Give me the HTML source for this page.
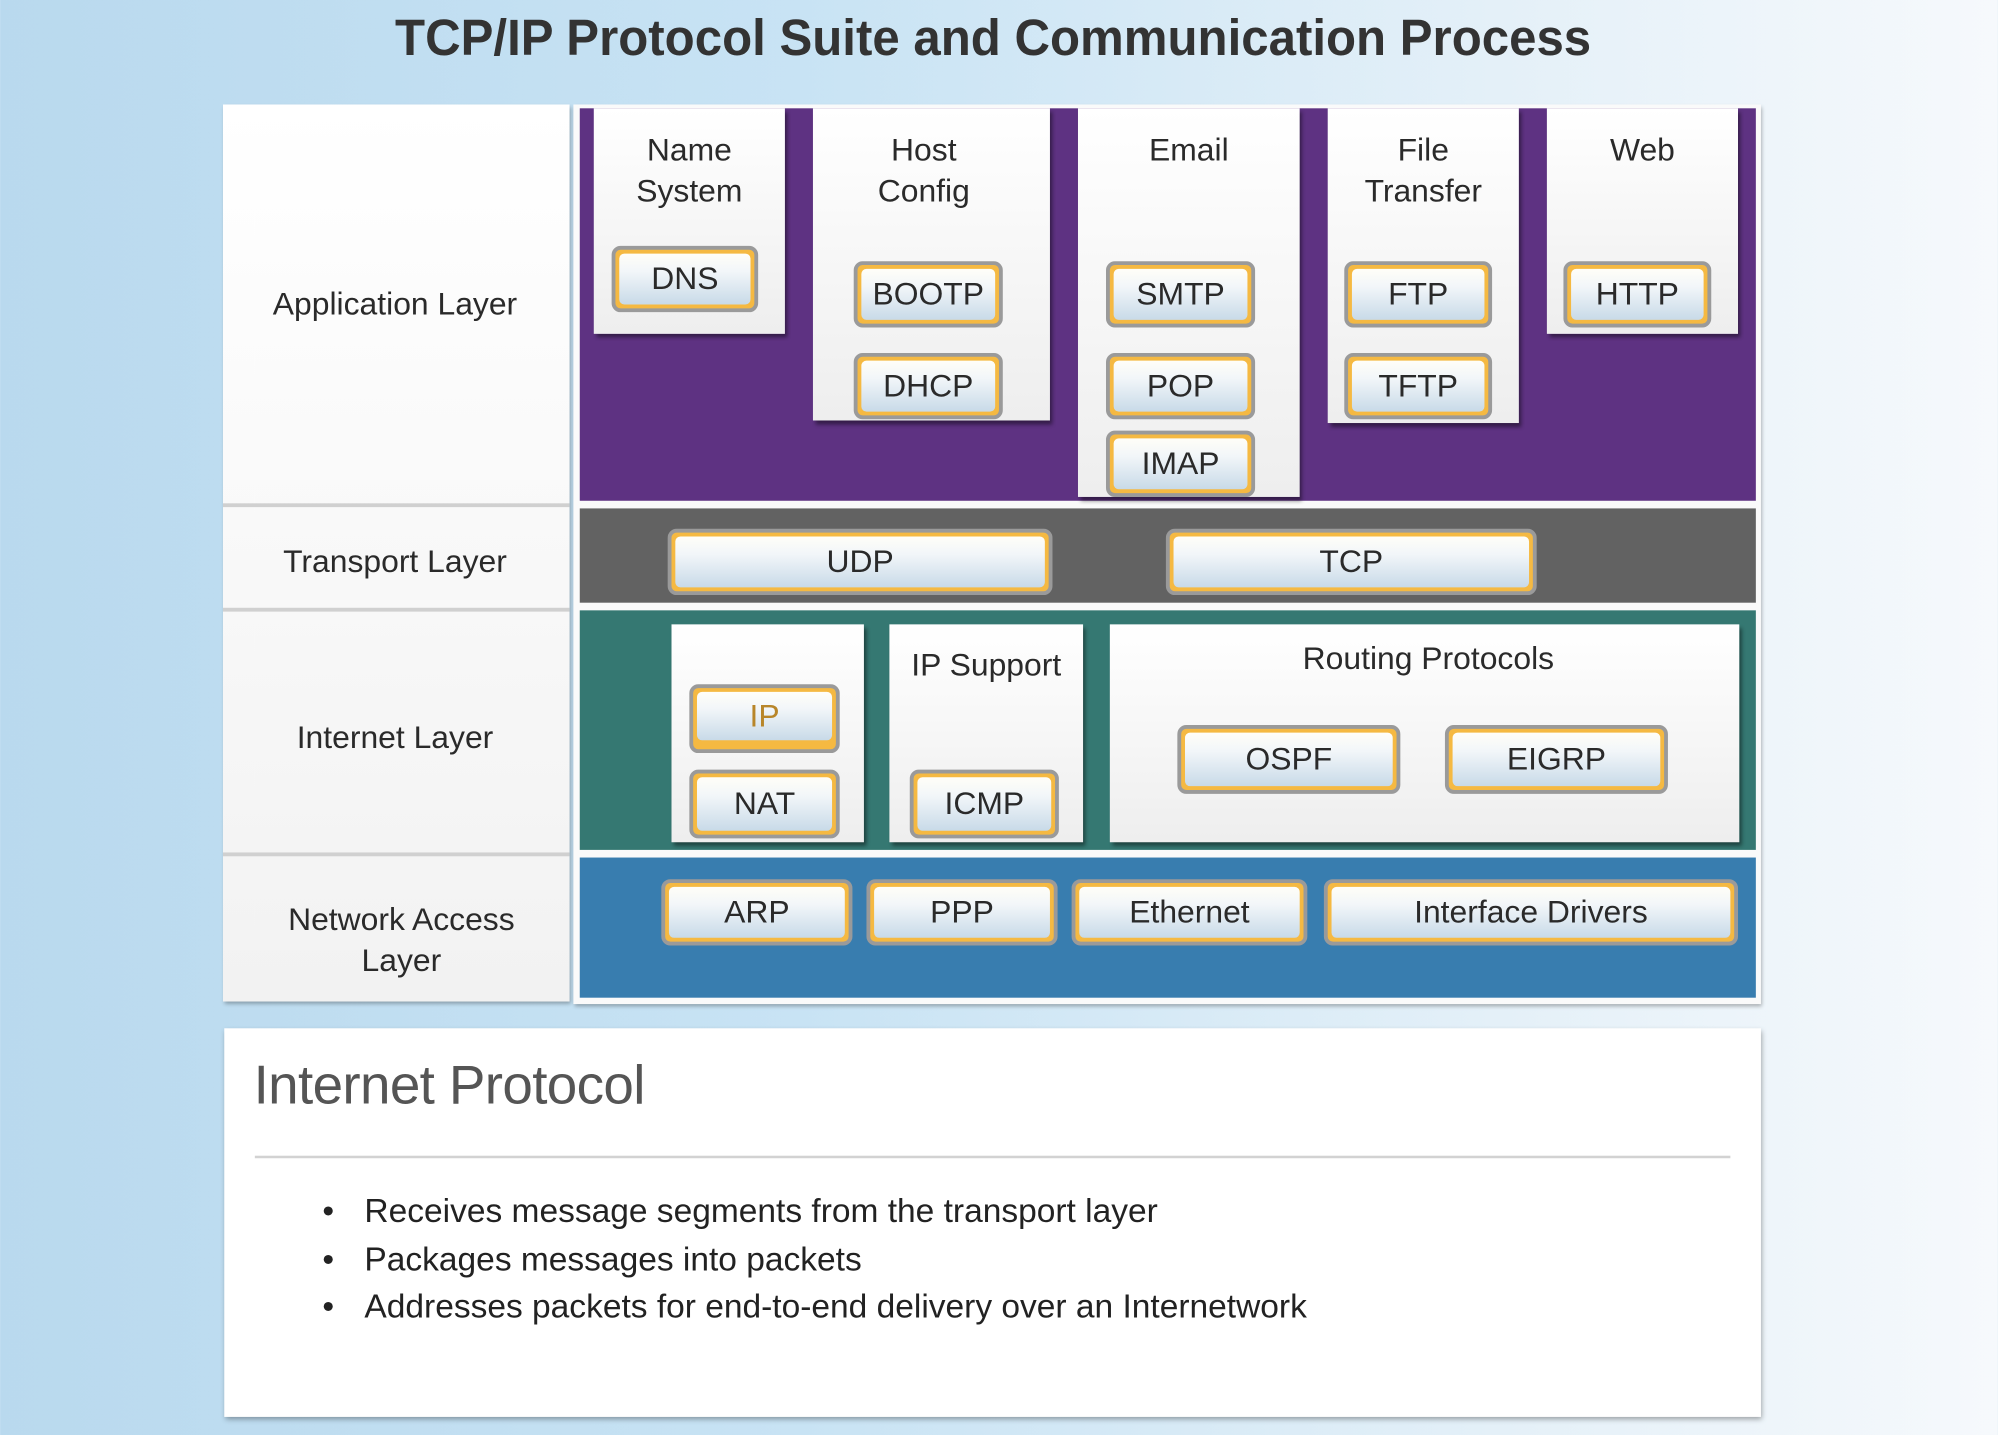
<!DOCTYPE html>
<html><head><meta charset="utf-8"><style>
html,body{margin:0;padding:0;width:1998px;height:1434px;overflow:hidden}
body{background:linear-gradient(90deg,#b9d9ee 0%,#c8e3f4 40%,#e4f0f8 75%,#f6f9fc 100%);font-family:"Liberation Sans",sans-serif}
#s{position:absolute;left:0;top:0;width:1568px;height:1126px;transform:scale(1.2742);transform-origin:0 0}
.a{position:absolute}
.t{position:absolute;color:#2a2a2a;font-size:25px;text-align:center;line-height:32px}
.b{position:absolute;box-sizing:border-box;border:3px solid #9a9a9a;border-radius:7px;background:#f5b942;padding:3px}
.b>div{width:100%;height:100%;border-radius:4px;background:linear-gradient(#fffef8 0%,#f2f6f9 35%,#c8dae8 100%);display:flex;align-items:center;justify-content:center;font-size:25px;color:#2a2a2a}
.c{position:absolute;background:linear-gradient(#fff,#eeeeee);box-shadow:2px 3px 3px rgba(0,0,0,.45)}
</style></head><body><div id="s">
<div class="a" style="left:0;top:0;width:1568px;text-align:center;top:8px;font-size:40px;font-weight:bold;color:#333;"><span style="display:inline-block;transform:scaleX(0.965);margin-left:-10px">TCP/IP Protocol Suite and Communication Process</span></div>

<div class="a" style="left:175px;top:82px;width:272px;height:704px;background:linear-gradient(#fff,#f2f2f2);box-shadow:1px 2px 3px rgba(0,0,0,.3)"></div>
<div class="a" style="left:175px;top:395px;width:272px;height:3px;background:#d0d0d0"></div>
<div class="a" style="left:175px;top:477px;width:272px;height:3px;background:#d0d0d0"></div>
<div class="a" style="left:175px;top:669px;width:272px;height:3px;background:#d0d0d0"></div>
<div class="t" style="left:175px;width:270px;top:223px">Application Layer</div>
<div class="t" style="left:175px;width:270px;top:425px">Transport Layer</div>
<div class="t" style="left:175px;width:270px;top:563px">Internet Layer</div>
<div class="t" style="left:180px;width:270px;top:706px">Network Access<br>Layer</div>

<div class="a" style="left:450px;top:82px;width:932px;height:706px;background:#fafafa;box-shadow:1px 2px 3px rgba(0,0,0,.3)"></div>
<div class="a" style="left:455px;top:85px;width:923px;height:308px;background:#5e3282"></div>
<div class="a" style="left:455px;top:399px;width:923px;height:74px;background:#626262"></div>
<div class="a" style="left:455px;top:479px;width:923px;height:188px;background:#357872"></div>
<div class="a" style="left:455px;top:673px;width:923px;height:110px;background:#387daf"></div>

<div class="c" style="left:466px;top:85px;width:150px;height:177px"></div>
<div class="c" style="left:638px;top:85px;width:186px;height:245px"></div>
<div class="c" style="left:846px;top:85px;width:174px;height:305px"></div>
<div class="c" style="left:1042px;top:85px;width:150px;height:247px"></div>
<div class="c" style="left:1214px;top:85px;width:150px;height:177px"></div>
<div class="t" style="left:466px;width:150px;top:102px">Name<br>System</div>
<div class="t" style="left:638px;width:174px;top:102px">Host<br>Config</div>
<div class="t" style="left:846px;width:174px;top:102px">Email</div>
<div class="t" style="left:1042px;width:150px;top:102px">File<br>Transfer</div>
<div class="t" style="left:1214px;width:150px;top:102px">Web</div>

<div class="b" style="left:480px;top:193px;width:115px;height:52px"><div>DNS</div></div>
<div class="b" style="left:670px;top:205px;width:117px;height:52px"><div>BOOTP</div></div>
<div class="b" style="left:670px;top:277px;width:117px;height:52px"><div>DHCP</div></div>
<div class="b" style="left:868px;top:205px;width:117px;height:52px"><div>SMTP</div></div>
<div class="b" style="left:868px;top:277px;width:117px;height:52px"><div>POP</div></div>
<div class="b" style="left:868px;top:338px;width:117px;height:52px"><div>IMAP</div></div>
<div class="b" style="left:1055px;top:205px;width:116px;height:52px"><div>FTP</div></div>
<div class="b" style="left:1055px;top:277px;width:116px;height:52px"><div>TFTP</div></div>
<div class="b" style="left:1227px;top:205px;width:116px;height:52px"><div>HTTP</div></div>

<div class="b" style="left:524px;top:415px;width:302px;height:52px"><div>UDP</div></div>
<div class="b" style="left:915px;top:415px;width:291px;height:52px"><div>TCP</div></div>

<div class="c" style="left:527px;top:490px;width:151px;height:171px"></div>
<div class="c" style="left:698px;top:490px;width:152px;height:171px"></div>
<div class="c" style="left:871px;top:490px;width:494px;height:171px"></div>
<div class="t" style="left:698px;width:152px;top:506px">IP Support</div>
<div class="t" style="left:871px;width:500px;top:501px">Routing Protocols</div>
<div class="b" style="left:541px;top:537px;width:118px;height:54px;padding:3px 3px 7px"><div style="color:#b8862a">IP</div></div>
<div class="b" style="left:541px;top:604px;width:118px;height:54px"><div>NAT</div></div>
<div class="b" style="left:714px;top:604px;width:117px;height:54px"><div>ICMP</div></div>
<div class="b" style="left:924px;top:569px;width:175px;height:54px"><div>OSPF</div></div>
<div class="b" style="left:1134px;top:569px;width:175px;height:54px"><div>EIGRP</div></div>

<div class="b" style="left:519px;top:690px;width:150px;height:52px"><div>ARP</div></div>
<div class="b" style="left:680px;top:690px;width:150px;height:52px"><div>PPP</div></div>
<div class="b" style="left:841px;top:690px;width:185px;height:52px"><div>Ethernet</div></div>
<div class="b" style="left:1039px;top:690px;width:325px;height:52px"><div>Interface Drivers</div></div>

<div class="a" style="left:176px;top:807px;width:1206px;height:305px;background:#fff;box-shadow:1px 2px 4px rgba(0,0,0,.35)"></div>
<div class="a" style="left:199px;top:828px;font-size:43px;color:#555;font-weight:300;letter-spacing:-0.5px">Internet Protocol</div>
<div class="a" style="left:200px;top:907px;width:1158px;height:2px;background:#d2d2d2"></div>
<div class="a" style="left:253px;top:932px;font-size:26.3px;color:#222;line-height:37.5px">
<div><span style="display:inline-block;width:33px">•</span>Receives message segments from the transport layer</div>
<div><span style="display:inline-block;width:33px">•</span>Packages messages into packets</div>
<div><span style="display:inline-block;width:33px">•</span>Addresses packets for end-to-end delivery over an Internetwork</div>
</div>
</div></body></html>
